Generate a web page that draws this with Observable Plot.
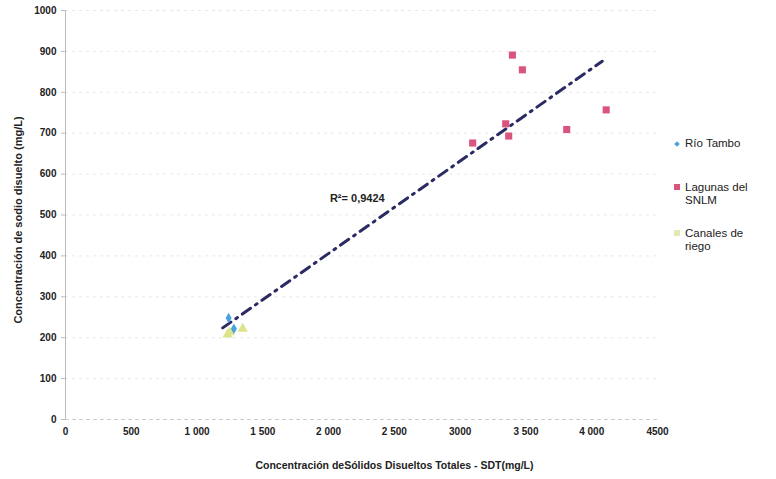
<!DOCTYPE html>
<html><head><meta charset="utf-8">
<script src="https://cdn.jsdelivr.net/npm/d3@7"></script>
<script src="https://cdn.jsdelivr.net/npm/@observablehq/plot@0.6"></script>
<style>
body{margin:0;background:#fff;font-family:"Liberation Sans",Arial,sans-serif;}
#wrap{position:relative;width:776px;height:479px;}
#legend{position:absolute;left:674px;top:137px;font-size:11.5px;color:#222;line-height:13px;}
.li{position:relative;padding-left:11px;}
.sw{position:absolute;left:0;top:3px;width:6px;height:6px;}
</style></head>
<body><div id="wrap"><div id="chart"></div>
<div id="legend">
<div class="li" style="height:44px"><span class="sw" style="width:4px;height:4px;left:1px;top:5px;background:#4aa3df;transform:rotate(45deg)"></span>Río Tambo</div>
<div class="li" style="height:46px"><span class="sw" style="background:#d9557d"></span>Lagunas del<br>SNLM</div>
<div class="li"><span class="sw" style="background:#e3e9b0"></span>Canales de<br>riego</div>
</div></div>
<script>
const rioX = [1240, 1280];
const rioY = [248, 222];
const lagX = [3397, 3473, 4110, 3346, 3369, 3810, 3095];
const lagY = [891, 855, 757, 723, 693, 709, 676];
const canX = [1248, 1347, 1232];
const canY = [213, 222, 208];
const trendX = [1195, 4080];
const trendY = [224, 876];
const xTicks = [0, 500, 1000, 1500, 2000, 2500, 3000, 3500, 4000, 4500];
const xTickLabels = ["0", "500", "1 000", "1 500", "2 000", "2 500", "3000", "3 500", "4 000", "4500"];
const yTicks = [0, 100, 200, 300, 400, 500, 600, 700, 800, 900, 1000];
const r2Label = "R²= 0,9424";
const r2Pos = [2010, 540];

const rio = rioX.map((x, i) => ({x, y: rioY[i]}));
const lag = lagX.map((x, i) => ({x, y: lagY[i]}));
const can = canX.map((x, i) => ({x, y: canY[i]}));
const trend = trendX.map((x, i) => ({x, y: trendY[i]}));

const chart = Plot.plot({
  width: 776, height: 479,
  marginLeft: 65, marginRight: 119, marginTop: 10, marginBottom: 60,
  style: {fontFamily: "Liberation Sans, Arial, sans-serif", fontSize: "10px", color: "#222", background: "#fff"},
  x: {domain: [0, 4500]},
  y: {domain: [0, 1000]},
  marks: [
    Plot.gridY(yTicks.slice(1), {stroke: "#ccc", strokeOpacity: 0.45, strokeDasharray: "3,4"}),
    Plot.ruleX([0], {stroke: "#bbb"}),
    Plot.ruleY([0], {stroke: "#ccc", strokeDasharray: "4,3"}),
    Plot.axisY({ticks: yTicks, tickFormat: (d) => String(d), tickSize: 4, tickPadding: 5, stroke: "#bbb", fontWeight: "bold", fontSize: 10, label: null}),
    Plot.axisX({ticks: xTicks, tickFormat: (d) => xTickLabels[xTicks.indexOf(d)], tickSize: 0, tickPadding: 8, fontWeight: "bold", fontSize: 10, label: null}),
    Plot.text(["Concentración de sodio disuelto (mg/L)"], {frameAnchor: "left", textAnchor: "middle", rotate: -90, dx: -47, dy: 5, fontWeight: "bold", fontSize: 11}),
    Plot.text(["Concentración deSólidos Disueltos Totales - SDT(mg/L)"], {frameAnchor: "bottom", dy: 49, dx: 33, fontWeight: "bold", fontSize: 10.5}),
    Plot.line(trend, {x: "x", y: "y", stroke: "#2b2b63", strokeWidth: 3, strokeDasharray: "10,6,2,6"}),
    Plot.dot(lag, {x: "x", y: "y", symbol: "square", fill: "#d9557d", r: 4}),
    Plot.dot(can, {x: "x", y: "y", symbol: "triangle", fill: "#dde48a", r: 3.8}),
    Plot.dot(rio, {x: "x", y: "y", symbol: "diamond", fill: "#4aa3df", r: 3.2}),
    Plot.text([r2Label], {x: () => r2Pos[0], y: () => r2Pos[1], fontWeight: "bold", fontSize: 11, textAnchor: "start"})
  ]
});
document.getElementById("chart").appendChild(chart);
</script></body></html>
